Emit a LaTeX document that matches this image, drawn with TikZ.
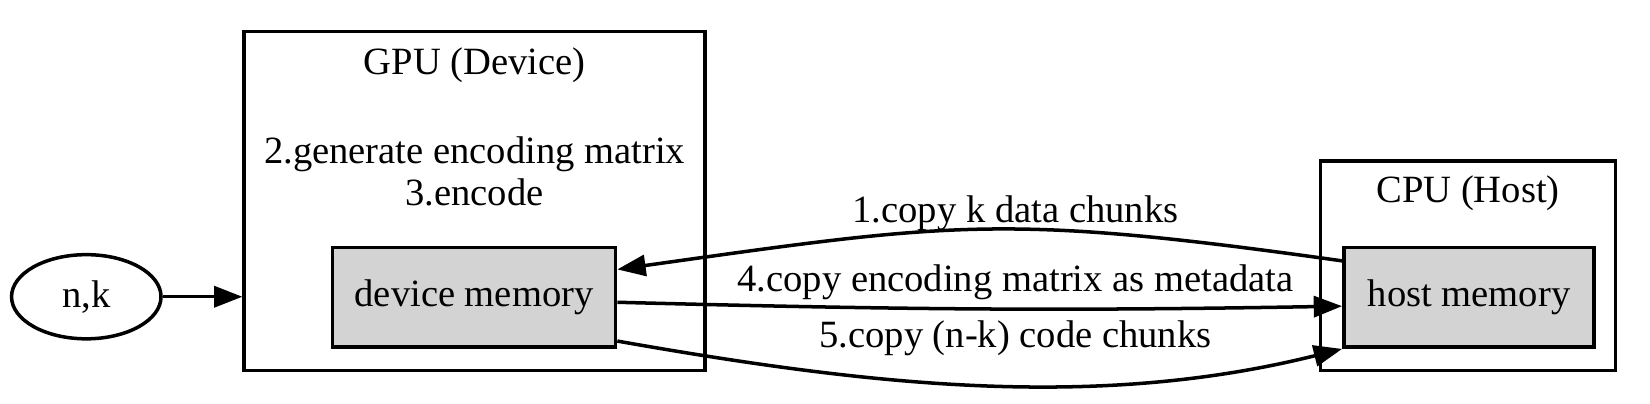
\documentclass[tikz,border=0pt]{standalone}
\usepackage{fontspec}
\setmainfont{Liberation Serif}
\usetikzlibrary{arrows.meta,shapes.geometric}
\definecolor{memgray}{HTML}{D3D3D3}
\begin{document}
\begin{tikzpicture}[x=0.39pt, y=0.39pt, line width=1.3pt, font=\fontsize{14.3}{16}\selectfont,
  cluster/.style={draw, rectangle, inner sep=0pt},
  mem/.style={draw, rectangle, fill=memgray, minimum height=37pt, inner sep=0pt},
  >={Triangle[length=10.5pt, width=7.8pt]}]
\useasboundingbox (0,0) rectangle (1568,383);

\node[cluster, minimum width=170.8pt, minimum height=125.6pt] at (451,192)(gpu) {};
\node[cluster, minimum width=109.2pt, minimum height=77.6pt] at (1395,130.5)(cpu) {};

\node at (451,321)(gpulabel) {GPU (Device)};
\node[align=center, font=\fontsize{14.3}{15.6}\selectfont] at (451,220)(steps) {2.generate encoding matrix\\3.encode};
\node at (1395,199)(cpulabel) {CPU (Host)};

\node[draw, ellipse, minimum width=55.4pt, minimum height=31.2pt, inner sep=0pt] at (82,101)(nk) {n,k};
\node[mem, minimum width=104.9pt] at (450.5,100.5)(devmem) {device memory};
\node[mem, minimum width=92.8pt] at (1396,100.5)(hostmem) {host memory};

\draw[->] (nk.east) -- (nk.east -| gpu.west);
\draw[->] (hostmem.164) to[out=172, in=8, looseness=1.2] (devmem.11);
\draw[->] (devmem.-2) to[out=-1.5, in=181] (hostmem.184);
\draw[->] (devmem.-17) to[out=-10, in=194, looseness=0.9] (hostmem.south west);

\node at (965,180)(copyk) {1.copy k data chunks};
\node at (965,114.5)(copymeta) {4.copy encoding matrix as metadata};
\node at (965,62)(copycode) {5.copy (n-k) code chunks};
\end{tikzpicture}
\end{document}
